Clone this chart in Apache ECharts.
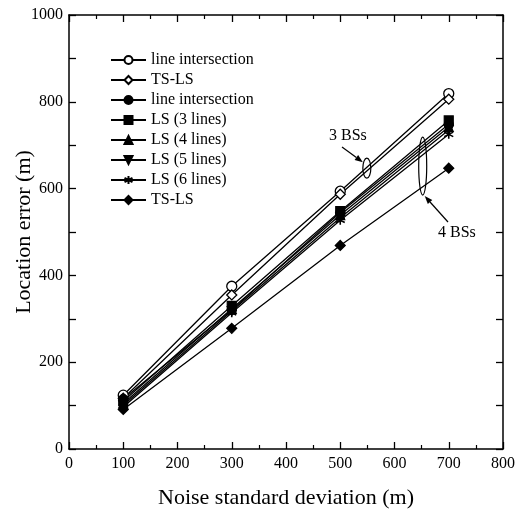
<!DOCTYPE html>
<html>
<head>
<meta charset="utf-8">
<script src="https://cdn.jsdelivr.net/npm/echarts@6/dist/echarts.min.js"></script>
<style>
  html, body { margin: 0; padding: 0; background: #fff; }
  #chart { width: 519px; height: 510px; }
</style>
</head>
<body>
<div id="chart"></div>
<script>
// noise std dev (m)
const noise = [100, 300, 500, 700];

// 3 BSs
const li3 = [124, 375, 594, 819];
const tsls3 = [117, 355, 587, 806];
// 4 BSs
const li4 = [115, 320, 545, 748];
const ls3 = [110, 330, 548, 757];
const ls4 = [105, 323, 539, 742];
const ls5 = [101, 318, 533, 735];
const ls6 = [97, 314, 527, 725];
const tsls4 = [91, 278, 469, 647];

const names = ['line intersection', 'TS-LS', 'line intersection ', 'LS (3 lines)',
  'LS (4 lines)', 'LS (5 lines)', 'LS (6 lines)', 'TS-LS '];

const font = 'Liberation Serif';
const asterisk = 'path://M0,-10L0,10M-9,-5L9,5M-9,5L9,-5';

function pts(arr) {
  return noise.map((x, i) => [x, arr[i]]);
}

function mk(name, arr, symbol, size, opts) {
  return Object.assign({
    name: name,
    type: 'line',
    data: pts(arr),
    symbol: symbol,
    symbolSize: size,
    lineStyle: { color: '#000', width: 1.3 },
    itemStyle: { color: '#000', borderColor: '#000', borderWidth: 1.2 },
    z: 3
  }, opts || {});
}

const series = [
  mk(names[0], li3, 'circle', 10, { itemStyle: { color: '#fff', borderColor: '#000', borderWidth: 1.3 } }),
  mk(names[1], tsls3, 'diamond', 10, { itemStyle: { color: '#fff', borderColor: '#000', borderWidth: 1.3 } }),
  mk(names[2], li4, 'circle', 9),
  mk(names[3], ls3, 'rect', 9),
  mk(names[4], ls4, 'triangle', 9),
  mk(names[5], ls5, 'triangle', 9, { symbolRotate: 180 }),
  mk(names[6], ls6, asterisk, 9, { itemStyle: { color: '#000', borderColor: '#000', borderWidth: 1.6 } }),
  mk(names[7], tsls4, 'diamond', 10)
];

const chart = echarts.init(document.getElementById('chart'));

const axisCommon = {
  type: 'value',
  axisLine: { show: true, onZero: false, lineStyle: { color: '#000', width: 1.5 } },
  axisTick: { show: true, inside: true, length: 7, lineStyle: { color: '#000', width: 1.3 } },
  minorTick: { show: true, splitNumber: 2, length: 4, lineStyle: { color: '#000', width: 1.2 } },
  splitLine: { show: false },
  axisLabel: { color: '#000', fontFamily: font, fontSize: 16, formatter: v => String(v) }
};

chart.setOption({
  animation: false,
  backgroundColor: '#fff',
  grid: { left: 69, right: 16, top: 15, bottom: 61, containLabel: false, outerBoundsMode: 'none' },
  legend: {
    orient: 'vertical',
    left: 105,
    top: 47,
    itemGap: 4,
    itemWidth: 35,
    itemHeight: 10,
    textStyle: { color: '#000', fontFamily: font, fontSize: 16 },
    data: names
  },
  xAxis: [
    Object.assign({}, axisCommon, {
      min: 0, max: 800, interval: 100,
      name: 'Noise standard deviation (m)',
      nameLocation: 'middle',
      nameGap: 38,
      nameTextStyle: { color: '#000', fontFamily: font, fontSize: 22 },
      axisLabel: { color: '#000', fontFamily: font, fontSize: 16, margin: 7 }
    }),
    Object.assign({}, axisCommon, {
      min: 0, max: 800, interval: 100, position: 'top',
      axisLabel: { show: false }
    })
  ],
  yAxis: [
    Object.assign({}, axisCommon, {
      min: 0, max: 1000, interval: 200,
      minorTick: { show: true, splitNumber: 2, length: 7, lineStyle: { color: '#000', width: 1.3 } },
      name: 'Location error (m)',
      nameLocation: 'middle',
      nameGap: 34,
      nameMoveOverlap: false,
      nameTextStyle: { color: '#000', fontFamily: font, fontSize: 22 },
      axisLabel: { color: '#000', fontFamily: font, fontSize: 16, margin: 6, formatter: v => String(v) }
    }),
    Object.assign({}, axisCommon, {
      min: 0, max: 1000, interval: 200, position: 'right',
      minorTick: { show: true, splitNumber: 2, length: 7, lineStyle: { color: '#000', width: 1.3 } },
      axisLabel: { show: false }
    })
  ],
  series: series
});

// annotations: ellipses marking the groups, with arrows and labels
function px(x, y) {
  return chart.convertToPixel({ xAxisIndex: 0, yAxisIndex: 0 }, [x, y]);
}

function arrow(from, to) {
  const dx = to[0] - from[0], dy = to[1] - from[1];
  const len = Math.sqrt(dx * dx + dy * dy);
  const ux = dx / len, uy = dy / len;
  const hl = 8, hw = 3;
  const bx = to[0] - ux * hl, by = to[1] - uy * hl;
  return [
    { type: 'line', shape: { x1: from[0], y1: from[1], x2: bx, y2: by }, style: { stroke: '#000', lineWidth: 1.2 } },
    { type: 'polygon', shape: { points: [to, [bx - uy * hw, by + ux * hw], [bx + uy * hw, by - ux * hw]] }, style: { fill: '#000' } }
  ];
}

const e3 = px(549, 647);
const e4 = px(652, 652);
const graphics = [
  { type: 'ellipse', shape: { cx: e3[0], cy: e3[1], rx: 4, ry: 10 }, style: { fill: 'none', stroke: '#000', lineWidth: 1.2 } },
  { type: 'ellipse', shape: { cx: e4[0], cy: e4[1], rx: 4, ry: 29 }, style: { fill: 'none', stroke: '#000', lineWidth: 1.2 } },
  { type: 'text', x: 329, y: 128, style: { text: '3 BSs', fill: '#000', font: '16px "Liberation Serif"' } },
  { type: 'text', x: 438, y: 225, style: { text: '4 BSs', fill: '#000', font: '16px "Liberation Serif"' } }
].concat(arrow([342, 147], [e3[0] - 4, e3[1] - 6]))
 .concat(arrow([448, 222], [e4[0] + 2, e4[1] + 30]));

chart.setOption({ graphic: graphics.map(g => Object.assign({ z: 5 }, g)) });
</script>
</body>
</html>
